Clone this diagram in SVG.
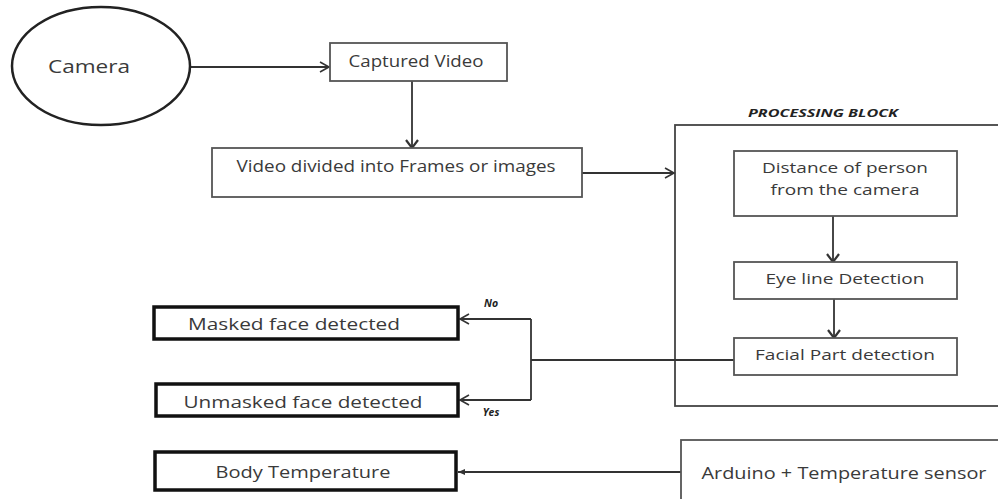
<svg xmlns="http://www.w3.org/2000/svg" width="998" height="499" viewBox="0 0 998 499">
<defs>
<style>
.t{font-family:"Open Sans","Liberation Sans",sans-serif;fill:#3a3a3a;text-anchor:middle}
.b{fill:#fff;stroke:#555;stroke-width:1.8}
.k{fill:#fff;stroke:#111;stroke-width:3.5}
.c{fill:none;stroke:#333;stroke-width:1.8}
.lbl{font-family:"Open Sans","Liberation Sans",sans-serif;font-weight:bold;font-style:italic;fill:#222;text-anchor:middle}
</style>
<marker id="open" markerWidth="12" markerHeight="12" refX="10" refY="6" orient="auto" markerUnits="userSpaceOnUse">
<path d="M1,1 L10,6 L1,11" fill="none" stroke="#333" stroke-width="1.6"/>
</marker>
<marker id="down" markerWidth="12" markerHeight="14" refX="10" refY="7" orient="auto" markerUnits="userSpaceOnUse">
<path d="M2,1 L10,7 L2,13" fill="none" stroke="#333" stroke-width="2.2"/>
</marker>
<marker id="fill" markerWidth="8" markerHeight="8" refX="7" refY="4" orient="auto" markerUnits="userSpaceOnUse">
<path d="M0,1 L7,4 L0,7 Z" fill="#333"/>
</marker>
</defs>
<rect width="998" height="499" fill="#fff"/>

<g id="processing-block">
<rect x="675" y="125" width="330" height="281" fill="none" stroke="#444" stroke-width="1.8"/>
<text class="lbl" x="823" y="117" font-size="10.5" textLength="150" lengthAdjust="spacingAndGlyphs">PROCESSING BLOCK</text>
</g>

<g id="connectors">
<line class="c" x1="190" y1="67" x2="329" y2="67" marker-end="url(#open)"/>
<line class="c" x1="412" y1="81" x2="412" y2="148" marker-end="url(#down)" stroke-width="2.2"/>
<line class="c" x1="582" y1="173" x2="674" y2="173" marker-end="url(#open)"/>
<line class="c" x1="833" y1="216" x2="833" y2="262" marker-end="url(#down)" stroke-width="2.2"/>
<line class="c" x1="834" y1="299" x2="834" y2="338" marker-end="url(#down)" stroke-width="2.2"/>
<polyline class="c" points="734,360 531,360"/>
<polyline class="c" points="531,319 531,400"/>
<line class="c" x1="531" y1="319" x2="460" y2="319" marker-end="url(#open)"/>
<line class="c" x1="531" y1="400" x2="460" y2="400" marker-end="url(#open)"/>
<line class="c" x1="681" y1="472" x2="458" y2="472" marker-end="url(#fill)"/>
<text class="lbl" x="491" y="307" font-size="10.5">No</text>
<text class="lbl" x="491" y="416" font-size="10.5">Yes</text>
</g>

<g id="camera">
<ellipse cx="101" cy="66" rx="89" ry="59" fill="#fff" stroke="#222" stroke-width="2.5"/>
<text class="t" x="89" y="73" font-size="19" textLength="82" lengthAdjust="spacingAndGlyphs">Camera</text>
</g>

<g id="captured-video">
<rect class="b" x="330" y="43" width="177" height="38"/>
<text class="t" x="416" y="67" font-size="15.5" textLength="135" lengthAdjust="spacingAndGlyphs">Captured Video</text>
</g>

<g id="video-frames">
<rect class="b" x="212" y="148" width="370" height="49"/>
<text class="t" x="396" y="172" font-size="15.5" textLength="319" lengthAdjust="spacingAndGlyphs">Video divided into Frames or images</text>
</g>

<g id="distance">
<rect class="b" x="734" y="151" width="223" height="65"/>
<text class="t" x="845" y="173" font-size="15" textLength="166" lengthAdjust="spacingAndGlyphs">Distance of person</text>
<text class="t" x="845" y="195" font-size="15" textLength="149" lengthAdjust="spacingAndGlyphs">from the camera</text>
</g>

<g id="eye-line">
<rect class="b" x="734" y="262" width="223" height="37"/>
<text class="t" x="845" y="284" font-size="15" textLength="159" lengthAdjust="spacingAndGlyphs">Eye line Detection</text>
</g>

<g id="facial-part">
<rect class="b" x="734" y="338" width="223" height="37"/>
<text class="t" x="845" y="360" font-size="15" textLength="180" lengthAdjust="spacingAndGlyphs">Facial Part detection</text>
</g>

<g id="masked">
<rect class="k" x="154" y="307" width="304" height="32"/>
<text class="t" x="294" y="330" font-size="16" textLength="212" lengthAdjust="spacingAndGlyphs">Masked face detected</text>
</g>

<g id="unmasked">
<rect class="k" x="156" y="384" width="302" height="32"/>
<text class="t" x="303" y="408" font-size="16" textLength="239" lengthAdjust="spacingAndGlyphs">Unmasked face detected</text>
</g>

<g id="body-temperature">
<rect class="k" x="155" y="452" width="301" height="38"/>
<text class="t" x="303" y="478" font-size="15.5" textLength="175" lengthAdjust="spacingAndGlyphs">Body Temperature</text>
</g>

<g id="arduino">
<rect class="b" x="681" y="440" width="330" height="70"/>
<text class="t" x="844" y="479" font-size="15.5" textLength="285" lengthAdjust="spacingAndGlyphs">Arduino + Temperature sensor</text>
</g>
</svg>
